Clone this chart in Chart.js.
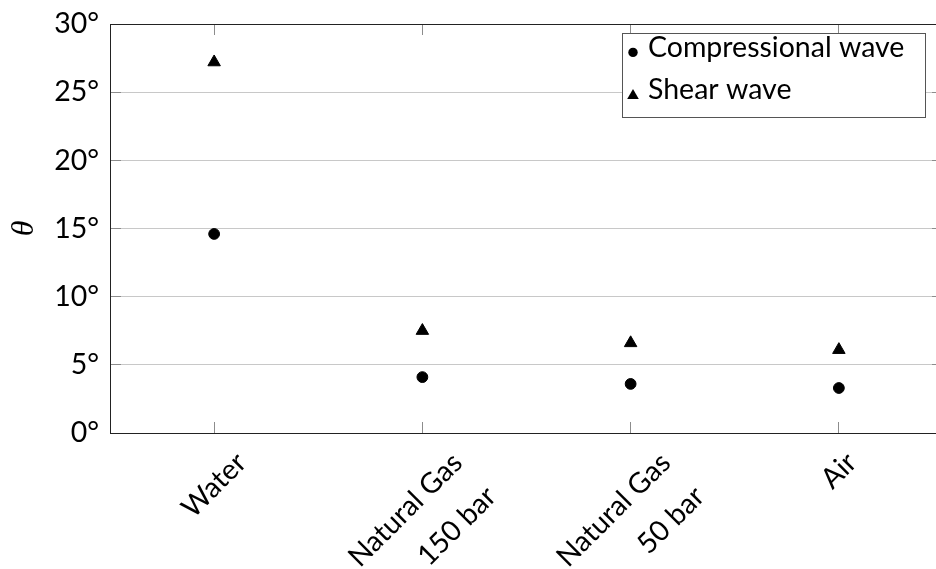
<!DOCTYPE html>
<html>
<head>
<meta charset="utf-8">
<script src="https://cdn.jsdelivr.net/npm/chart.js@4/dist/chart.umd.min.js"></script>
<style>
    html, body { margin: 0; padding: 0; background: #fff; overflow: hidden; }
    .chart-wrap { width: 960px; height: 569px; }
</style>
</head>
<body>
<div class="chart-wrap"><canvas id="angleChart" width="960" height="569"></canvas></div>
<script>
const categories = [['Water'], ['Natural Gas', '150 bar'], ['Natural Gas', '50 bar'], ['Air']];
const seriesNames = ['Compressional wave', 'Shear wave'];
const compressionalAngles = [14.6, 4.1, 3.6, 3.3];
const shearAngles = [27.2, 7.5, 6.6, 6.1];
const yTicks = [0, 5, 10, 15, 20, 25, 30];

const textFont = 'Lato';
const borderColor = '#222';
const tickMarkColor = '#8c8c8c';

function setYTicks(scale) {
    scale.ticks = yTicks.map(v => ({ value: v }));
}

// fixed axis sizes; drop the label overhang padding so the plot box stays put
function fixSize(prop, value) {
    return scale => {
        scale[prop] = value;
        scale.paddingTop = 0;
        scale.paddingBottom = 0;
        scale.paddingLeft = 0;
        scale.paddingRight = 0;
    };
}

// rotated labels in Chart.js hang from their right end; shift each one so the
// rotated block sits centred under its tick, like the original plot
const centreRotatedLabels = {
    id: 'centreRotatedLabels',
    beforeDraw(chart) {
        const scale = chart.scales.x;
        const ctx = chart.ctx;
        const items = scale.getLabelItems();
        ctx.save();
        items.forEach((item, i) => {
            const lines = [].concat(item.label);
            ctx.font = item.font.string;
            const widest = Math.max(...lines.map(t => ctx.measureText(t).width));
            const blockHeight = lines.length * item.font.lineHeight;
            item.options.translation[0] = scale.getPixelForTick(i) + Math.SQRT1_2 * (widest - blockHeight) / 2;
        });
        ctx.restore();
    }
};

// legend drawn inside the plot, top right, with a framed box
const insideLegend = {
    id: 'insideLegend',
    afterDraw(chart) {
        const ctx = chart.ctx;
        const box = { x: 622.5, y: 33.5, w: 303, h: 84 };
        ctx.save();
        ctx.fillStyle = '#fff';
        ctx.fillRect(box.x, box.y, box.w, box.h);
        ctx.strokeStyle = '#555';
        ctx.lineWidth = 1;
        ctx.strokeRect(box.x, box.y, box.w, box.h);

        ctx.font = '28.5px ' + textFont;
        ctx.textBaseline = 'alphabetic';
        ctx.textAlign = 'left';
        chart.data.datasets.forEach((ds, i) => {
            const baseline = 57 + i * 42;
            const mx = 633;
            ctx.fillStyle = '#000';
            ctx.beginPath();
            if (ds.pointStyle === 'triangle') {
                ctx.moveTo(mx, baseline - 10);
                ctx.lineTo(mx + 5.8, baseline);
                ctx.lineTo(mx - 5.8, baseline);
                ctx.closePath();
            } else {
                ctx.arc(mx, baseline - 4.6, 4.7, 0, Math.PI * 2);
            }
            ctx.fill();
            ctx.fillText(ds.label, 648, baseline);
        });
        ctx.restore();
    }
};

const ctx = document.getElementById('angleChart').getContext('2d');
new Chart(ctx, {
    type: 'line',
    data: {
        labels: categories,
        datasets: [
            {
                label: seriesNames[0],
                data: compressionalAngles,
                showLine: false,
                pointStyle: 'circle',
                pointRadius: 5.4,
                pointBorderWidth: 1,
                pointBackgroundColor: '#000',
                pointBorderColor: '#000'
            },
            {
                label: seriesNames[1],
                data: shearAngles,
                showLine: false,
                pointStyle: 'triangle',
                pointRadius: 7.2,
                pointBorderWidth: 1,
                pointBackgroundColor: '#000',
                pointBorderColor: '#000'
            }
        ]
    },
    options: {
        responsive: false,
        animation: false,
        layout: { padding: 0 },
        plugins: {
            legend: { display: false },
            tooltip: { enabled: false }
        },
        scales: {
            x: {
                type: 'category',
                offset: true,
                grid: { drawOnChartArea: false, offset: false, tickLength: -11, tickColor: tickMarkColor },
                border: { display: true, color: borderColor, width: 1 },
                ticks: {
                    autoSkip: false,
                    minRotation: 45,
                    maxRotation: 45,
                    padding: 19,
                    color: '#000',
                    font: { family: textFont, size: 28.5, lineHeight: 1.68 }
                },
                afterFit: fixSize('height', 136)
            },
            xTop: {
                type: 'category',
                position: 'top',
                labels: categories,
                offset: true,
                grid: { drawOnChartArea: false, offset: false, tickLength: -11, tickColor: tickMarkColor },
                border: { display: true, color: borderColor, width: 1 },
                ticks: { display: false },
                afterFit: fixSize('height', 24)
            },
            y: {
                min: 0,
                max: 30,
                afterBuildTicks: setYTicks,
                grid: { color: '#c8c8c8', tickColor: tickMarkColor, tickLength: -11 },
                border: { display: true, color: borderColor, width: 1 },
                ticks: {
                    padding: 22,
                    color: '#000',
                    font: { family: textFont, size: 28.5 },
                    callback: v => v + '°'
                },
                title: {
                    display: true,
                    text: 'θ',
                    color: '#000',
                    font: { family: 'Liberation Serif', style: 'italic', size: 32 },
                    padding: { top: 5, bottom: 0 }
                },
                afterFit: fixSize('width', 110)
            },
            yRight: {
                position: 'right',
                min: 0,
                max: 30,
                afterBuildTicks: setYTicks,
                grid: { drawOnChartArea: false, tickColor: tickMarkColor, tickLength: -11 },
                border: { display: true, color: borderColor, width: 1 },
                ticks: { display: false },
                afterFit: fixSize('width', 17)
            }
        }
    },
    plugins: [centreRotatedLabels, insideLegend]
});
</script>
</body>
</html>
